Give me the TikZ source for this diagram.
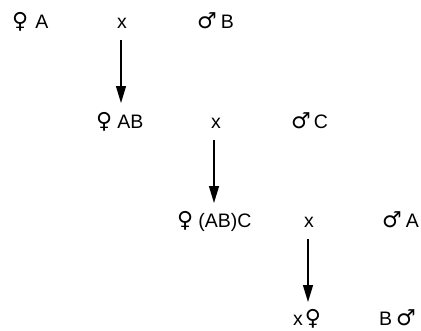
\documentclass[tikz,border=0pt]{standalone}
\usepackage{fontspec}
\setmainfont{Liberation Sans}
\newfontfamily\symf{DejaVu Sans}
\newcommand{\fem}{{\symf\fontsize{22}{24}\selectfont ♀}}
\newcommand{\mal}{{\symf\fontsize{22}{24}\selectfont ♂}}
\usetikzlibrary{arrows.meta}
\begin{document}
\begin{tikzpicture}[x=1pt,y=-1pt,
  lbl/.style={anchor=base west,inner sep=0pt,font=\fontsize{19.5}{22}\selectfont},
  cross/.style={anchor=base,inner sep=0pt,font=\fontsize{19.5}{22}\selectfont},
  arr/.style={line width=1.3pt,-{Triangle[width=10pt,length=17pt]}}]
\useasboundingbox (0,0) rectangle (421,330);
% row 1
\node[lbl] (fA) at (12,28) {\fem\hspace{7pt}A};
\node[cross] (x1) at (122,28) {x};
\node[lbl] (mB) at (197,28) {\mal\hspace{4pt}B};
% row 2
\node[lbl] (fAB) at (96,128) {\fem\hspace{5pt}AB};
\node[cross] (x2) at (216,128) {x};
\node[lbl] (mC) at (291,128) {\mal\hspace{3pt}C};
% row 3
\node[lbl] (fABC) at (177,227) {\fem\hspace{5pt}(AB)C};
\node[cross] (x3) at (309,227) {x};
\node[lbl] (mA) at (382,227) {\mal\hspace{4pt}A};
% row 4
\node[lbl] (xf) at (293,325) {x\hspace{2pt}\fem};
\node[lbl] (Bm) at (379,325) {B\hspace{4pt}\mal};
% arrows
\coordinate (a1s) at (121,40); \coordinate (a1e) at (121,103);
\coordinate (a2s) at (214,140); \coordinate (a2e) at (214,203);
\coordinate (a3s) at (308,239); \coordinate (a3e) at (308,302);
\draw[arr] (a1s) -- (a1e);
\draw[arr] (a2s) -- (a2e);
\draw[arr] (a3s) -- (a3e);
\end{tikzpicture}
\end{document}
